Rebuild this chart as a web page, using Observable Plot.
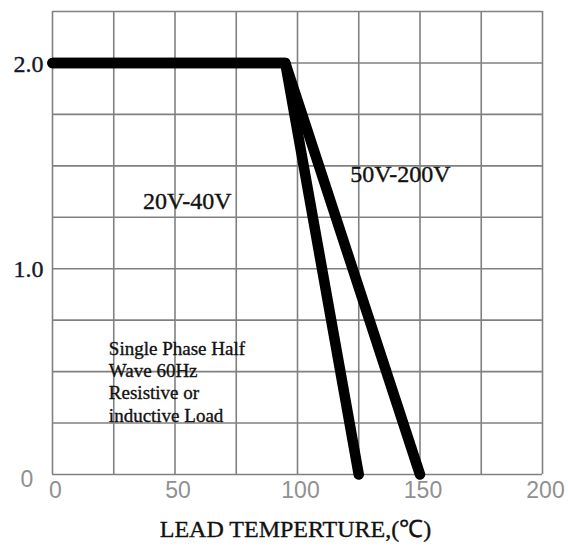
<!DOCTYPE html>
<html><head><meta charset="utf-8">
<script src="https://cdn.jsdelivr.net/npm/d3@7"></script>
<script src="https://cdn.jsdelivr.net/npm/@observablehq/plot@0.6"></script>
<style>html,body{margin:0;padding:0;background:#fff;} svg{display:block}</style>
</head><body><div id="chart"></div>
<script>
// ---- data ----
const seriesNames = ["20V-40V", "50V-200V"];
const temp20 = [0, 95, 125];
const current20 = [2.0, 2.0, 0];
const temp50 = [0, 95, 150];
const current50 = [2.0, 2.0, 0];
const xTicks = [0, 50, 100, 150, 200];
const xTickLabels = ["0", "50", "100", "150", "200"];
const yTicks = [0, 1, 2];
const yTickLabels = ["0", "1.0", "2.0"];
const xGrid = [0, 25, 50, 75, 100, 125, 150, 175, 200];
const yGrid = [0, 0.25, 0.5, 0.75, 1, 1.25, 1.5, 1.75, 2, 2.25];
const seriesLabelX = [55, 142];
const seriesLabelY = [1.33, 1.46];
const noteLines = ["Single Phase Half", "Wave 60Hz", "Resistive or", "inductive Load"];
const noteX = [23];
const noteY = [0.66];
const xTitle = "LEAD TEMPERTURE,(℃)";

// ---- tables ----
const lineRows = [
  ...temp20.map((t, i) => ({series: seriesNames[0], t, a: current20[i]})),
  ...temp50.map((t, i) => ({series: seriesNames[1], t, a: current50[i]}))
];
const seriesLabels = seriesNames.map((s, i) => ({s, x: seriesLabelX[i], y: seriesLabelY[i]}));
const xTickRows = xTicks.map((v, i) => ({v, label: xTickLabels[i]}));
const yTickRows = yTicks.map((v, i) => ({v, label: yTickLabels[i]}));
const noteRows = [{x: noteX[0], y: noteY[0], text: noteLines.join("\n")}];

const serif = "'Liberation Serif', 'Times New Roman', serif";
const sans = "'Liberation Sans', Arial, sans-serif";
const gridColor = "#808080";
const ink = "#111";
const heavy = {stroke: ink, strokeWidth: 0.35};

const chart = Plot.plot({
  width: 568,
  height: 550,
  marginLeft: 52,
  marginRight: 26,
  marginTop: 11,
  marginBottom: 76,
  x: {domain: [0, 200], axis: null},
  y: {domain: [0, 2.25], axis: null},
  style: {background: "#fff"},
  marks: [
    Plot.ruleX(xGrid, {x: d => d, stroke: gridColor, strokeWidth: 1.6}),
    Plot.ruleY(yGrid, {y: d => d, stroke: gridColor, strokeWidth: 1.6}),
    Plot.text(noteRows, {x: "x", y: "y", text: "text", textAnchor: "start", lineAnchor: "top",
      lineHeight: 1.18, fontSize: 19, fontFamily: serif, fill: ink, ...heavy, letterSpacing: "-0.4px", ariaLabel: "note"}),
    Plot.line(lineRows, {x: "t", y: "a", z: "series", stroke: "#000", strokeWidth: 10.5,
      strokeLinecap: "round", strokeLinejoin: "round"}),
    Plot.text(seriesLabels, {x: "x", y: "y", text: "s", fontSize: 24, fontFamily: serif, fill: ink, ...heavy, letterSpacing: "-0.5px"}),
    Plot.text(xTickRows, {x: "v", text: "label", frameAnchor: "bottom", dy: 23, dx: 3,
      fontSize: 23, fontFamily: sans, fill: "#909090"}),
    Plot.text(yTickRows.filter(d => d.v !== 0), {y: "v", text: "label", frameAnchor: "left", dx: -9, dy: 1,
      textAnchor: "end", fontSize: 24, fontFamily: serif, fill: "#15152a", stroke: "#15152a", strokeWidth: 0.35}),
    Plot.text(yTickRows.filter(d => d.v === 0), {y: "v", text: "label", frameAnchor: "left", dx: -32, dy: 5,
      fontSize: 23, fontFamily: sans, fill: "#909090"}),
    Plot.text([xTitle], {frameAnchor: "bottom", dy: 62, dx: -2, fontSize: 24, fontFamily: serif, fill: ink, ...heavy, letterSpacing: "-0.3px"})
  ]
});
document.getElementById("chart").appendChild(chart);

// white background behind the note block (sized from the rendered text)
const noteG = chart.querySelector('g[aria-label="note"]');
if (noteG) {
  const b = noteG.getBBox();
  const r = document.createElementNS("http://www.w3.org/2000/svg", "rect");
  r.setAttribute("x", b.x - 3);
  r.setAttribute("y", b.y - 1);
  r.setAttribute("width", b.width + 18);
  r.setAttribute("height", b.height * 0.82);
  r.setAttribute("fill", "#fff");
  noteG.parentNode.insertBefore(r, noteG);
}
</script>
</body></html>
